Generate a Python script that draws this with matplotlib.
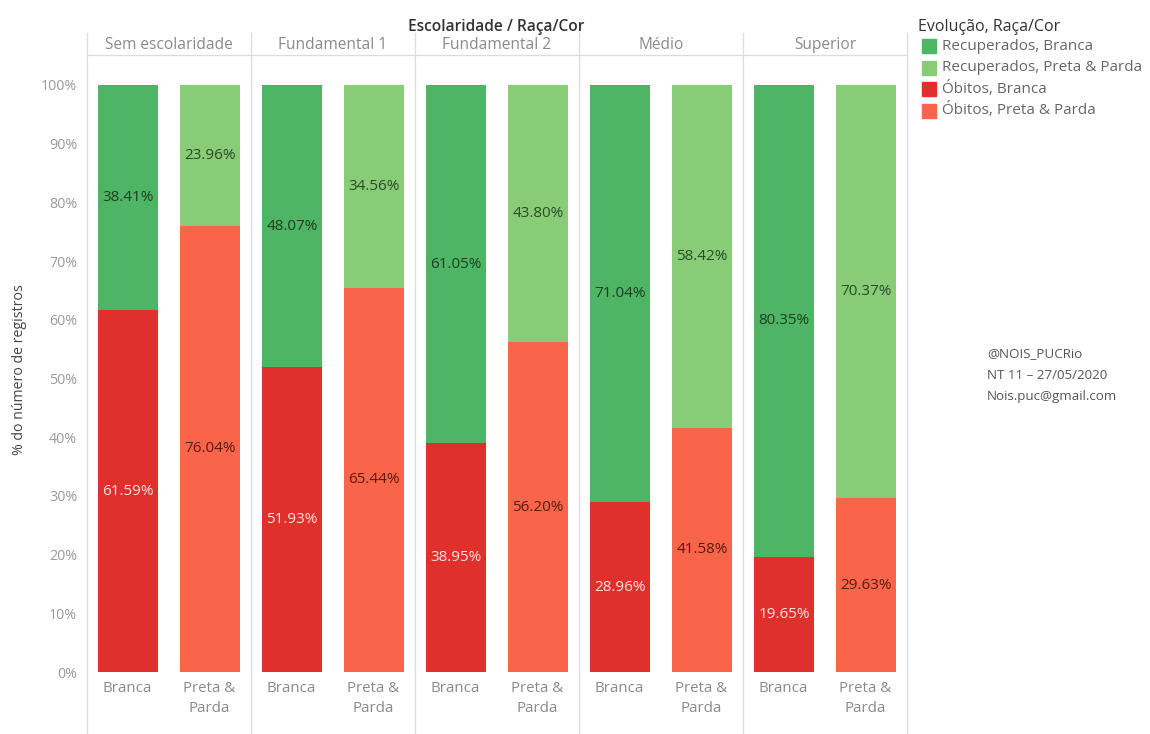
import matplotlib.pyplot as plt
import numpy as np
from matplotlib.patches import Rectangle
from matplotlib.lines import Line2D

categories = ['Sem escolaridade', 'Fundamental 1', 'Fundamental 2', 'Médio', 'Superior']
races = ['Branca', 'Preta &\nParda']
obitos_branca = [61.59, 51.93, 38.95, 28.96, 19.65]
recup_branca = [38.41, 48.07, 61.05, 71.04, 80.35]
obitos_preta = [76.04, 65.44, 56.20, 41.58, 29.63]
recup_preta = [23.96, 34.56, 43.80, 58.42, 70.37]

legend_labels = ['Recuperados, Branca', 'Recuperados, Preta & Parda',
                 'Óbitos, Branca', 'Óbitos, Preta & Parda']
colors = ['#4db563', '#88cc78', '#e0302c', '#f8654a']

W, H = 1150, 734
plt.rcParams['font.family'] = ['Open Sans', 'DejaVu Sans']


def fx(px):
    return px / W


def fy(py):
    return 1 - py / H


fig = plt.figure(figsize=(11.5, 7.34), dpi=100)
ax = fig.add_axes([fx(87), fy(672), fx(907) - fx(87), fy(85) - fy(672)])

n = len(categories)
x_b = np.arange(n) * 2 + 0.5
x_p = np.arange(n) * 2 + 1.5
w = 0.74

ax.bar(x_b, obitos_branca, w, color=colors[2])
ax.bar(x_b, recup_branca, w, bottom=obitos_branca, color=colors[0])
ax.bar(x_p, obitos_preta, w, color=colors[3])
ax.bar(x_p, recup_preta, w, bottom=obitos_preta, color=colors[1])

# value labels centered in segments
fs_val = 11
for i in range(n):
    ax.text(x_b[i], obitos_branca[i] / 2, f'{obitos_branca[i]:.2f}%', ha='center', va='center',
            color='#fbe3e3', fontsize=fs_val)
    ax.text(x_b[i], obitos_branca[i] + recup_branca[i] / 2, f'{recup_branca[i]:.2f}%', ha='center',
            va='center', color='#1f3d22', fontsize=fs_val)
    ax.text(x_p[i], obitos_preta[i] / 2, f'{obitos_preta[i]:.2f}%', ha='center', va='center',
            color='#5a1a10', fontsize=fs_val)
    ax.text(x_p[i], obitos_preta[i] + recup_preta[i] / 2, f'{recup_preta[i]:.2f}%', ha='center',
            va='center', color='#2a4a25', fontsize=fs_val)

ax.set_xlim(0, 2 * n)
ax.set_ylim(0, 100)
ax.set_yticks(np.arange(0, 101, 10))
ax.set_yticklabels([f'{v}%' for v in range(0, 101, 10)], color='#9a9a9a', fontsize=10.3)
ax.tick_params(axis='y', length=0, pad=7)
ax.set_xticks([])
for s in ax.spines.values():
    s.set_visible(False)
ax.axhline(0, color='#e4e4e4', lw=0.8, zorder=0)

fig.text(fx(20), fy(370), '% do número de registros', rotation=90, ha='center', va='center',
         color='#444444', fontsize=10.2)

# panel grid lines
line_c = '#dcdcdc'
for k in range(n + 1):
    px = 87 + k * 164
    fig.add_artist(Line2D([fx(px), fx(px)], [fy(33), fy(734)], color=line_c, lw=0.9))
fig.add_artist(Line2D([fx(87), fx(907)], [fy(55), fy(55)], color=line_c, lw=0.9))

# headers
fig.text(fx(496), fy(27), 'Escolaridade / Raça/Cor', ha='center', va='center',
         color='#333333', fontsize=11.2, fontweight='semibold')
for k, cat in enumerate(categories):
    fig.text(fx(87 + k * 164 + 82), fy(45), cat, ha='center', va='center', color='#8a8a8a',
             fontsize=11.2)
    for j, r in enumerate(races):
        cx = 87 + k * 164 + (40.5 if j == 0 else 122.5)
        fig.text(fx(cx), fy(681), r, ha='center', va='top', color='#8a8a8a', fontsize=10.8,
                 linespacing=1.5)

# legend
fig.text(fx(918), fy(27), 'Evolução, Raça/Cor', ha='left', va='center', color='#333333', fontsize=11.5)
for i, (lab, c) in enumerate(zip(legend_labels, colors)):
    yc = 46 + i * 21.5
    fig.add_artist(Rectangle((fx(922), fy(yc + 7)), fx(14), fx(14) * W / H, color=c))
    fig.text(fx(942), fy(yc), lab, ha='left', va='center', color='#666666', fontsize=11)

# credit
fig.text(fx(987), fy(375), '@NOIS_PUCRio\nNT 11 – 27/05/2020\nNois.puc@gmail.com', ha='left',
         va='center', color='#555555', fontsize=9.6, linespacing=1.85)

fig.savefig('out.png', dpi=100, facecolor='white')
